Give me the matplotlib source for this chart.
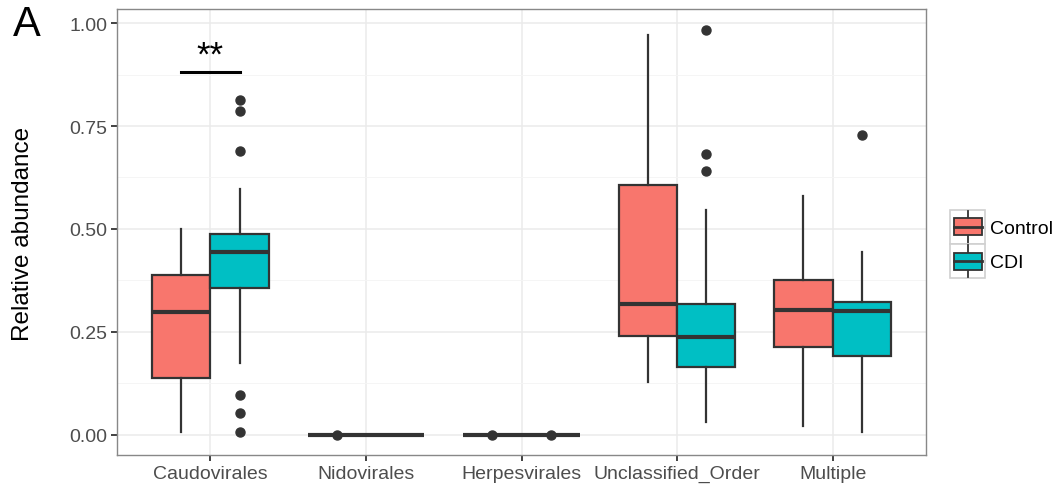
import matplotlib
matplotlib.use("Agg")
import matplotlib.pyplot as plt
from matplotlib.legend_handler import HandlerBase
from matplotlib.patches import Rectangle
from matplotlib.lines import Line2D
import numpy as np

plt.rcParams['font.family'] = ['Liberation Sans', 'DejaVu Sans']

categories = ["Caudovirales", "Nidovirales", "Herpesvirales", "Unclassified_Order", "Multiple"]
groups = ["Control", "CDI"]
colors = {"Control": "#F8766D", "CDI": "#00BFC4"}

# Box statistics per group (one value per category)
ctrl_whislo = [0.007, 0.0, 0.0, 0.127, 0.020]
ctrl_q1     = [0.138, 0.0, 0.0, 0.240, 0.213]
ctrl_med    = [0.297, 0.0, 0.0, 0.318, 0.302]
ctrl_q3     = [0.388, 0.0, 0.0, 0.607, 0.376]
ctrl_whishi = [0.500, 0.0, 0.0, 0.971, 0.581]
ctrl_fliers = [[], [0.0], [0.0], [], []]

cdi_whislo = [0.174, 0.0, 0.0, 0.032, 0.007]
cdi_q1     = [0.357, 0.0, 0.0, 0.165, 0.192]
cdi_med    = [0.443, 0.0, 0.0, 0.237, 0.301]
cdi_q3     = [0.487, 0.0, 0.0, 0.318, 0.322]
cdi_whishi = [0.597, 0.0, 0.0, 0.546, 0.445]
cdi_fliers = [[0.813, 0.787, 0.690, 0.097, 0.053, 0.007], [], [0.0], [0.983, 0.682, 0.641], [0.728]]

yticks = [0.00, 0.25, 0.50, 0.75, 1.00]
ytick_labels = ["0.00", "0.25", "0.50", "0.75", "1.00"]
sig_label = "**"
sig_y = 0.882

line_col = "#333333"

fig = plt.figure(figsize=(10.53, 4.85), dpi=100)
ax = fig.add_axes([117/1053, 29/485, (926-117)/1053, (456-10)/485])

def make_stats(whislo, q1, med, q3, whishi, fliers):
    return [dict(whislo=a, q1=b, med=c, q3=d, whishi=e, fliers=np.array(f))
            for a, b, c, d, e, f in zip(whislo, q1, med, q3, whishi, fliers)]

x = np.arange(1, len(categories) + 1)
bw = 0.375
sets = [(make_stats(ctrl_whislo, ctrl_q1, ctrl_med, ctrl_q3, ctrl_whishi, ctrl_fliers), -bw/2, "Control"),
        (make_stats(cdi_whislo, cdi_q1, cdi_med, cdi_q3, cdi_whishi, cdi_fliers), bw/2, "CDI")]
for stats, off, g in sets:
    ax.bxp(stats, positions=x + off, widths=bw, patch_artist=True, showcaps=False,
           boxprops=dict(facecolor=colors[g], edgecolor=line_col, linewidth=1.6),
           medianprops=dict(color=line_col, linewidth=3.0, solid_capstyle='butt'),
           whiskerprops=dict(color=line_col, linewidth=1.6),
           flierprops=dict(marker='o', markerfacecolor=line_col, markeredgecolor=line_col,
                           markersize=6.5, linestyle='none'),
           manage_ticks=False, zorder=3)

# significance marker
ax.plot([1 - bw/2, 1 + bw/2], [sig_y, sig_y], color="black", lw=2.2, zorder=4)
ax.text(1, 0.900, sig_label, ha='center', va='baseline', fontsize=25, color='black')

ymax = 0.985
pad = 0.05 * ymax
ax.set_ylim(-pad, ymax + pad)
ax.set_xlim(0.4, len(categories) + 0.6)
ax.set_xticks(x)
ax.set_xticklabels(categories, fontsize=14, color="#4D4D4D")
ax.set_yticks(yticks)
ax.set_yticklabels(ytick_labels, fontsize=14, color="#4D4D4D")
ax.set_yticks([0.125, 0.375, 0.625, 0.875], minor=True)
ax.set_xticks([], minor=True)
ax.grid(which='major', color="#EBEBEB", lw=1.1, zorder=0)
ax.grid(which='minor', axis='y', color="#F4F4F4", lw=0.6, zorder=0)
ax.set_axisbelow(True)
ax.tick_params(axis='both', which='major', length=4, width=1.3, color="#333333", pad=3)
ax.tick_params(axis='y', which='minor', length=0)
for s in ax.spines.values():
    s.set_color("#888888")
    s.set_linewidth(1.0)

fig.text(23/1053, 1 - 233.5/485, "Relative abundance", fontsize=17.5, rotation=90,
         ha='center', va='center', color='black')
fig.text(13/1053, 1 - 25/485, "A", fontsize=30, va='center', ha='left')

class BoxHandler(HandlerBase):
    def __init__(self, color):
        super().__init__(xpad=0.0, ypad=0.0)
        self.color = color
    def create_artists(self, legend, orig_handle, xdescent, ydescent, width, height, fontsize, trans):
        arts = []
        bg = Rectangle((-xdescent, -ydescent), width, height, facecolor="white",
                       edgecolor="#D0D0D0", lw=1.2, transform=trans)
        arts.append(bg)
        cx = -xdescent + width/2
        bx0 = -xdescent + width*0.1
        bx1 = -xdescent + width*0.9
        y0 = -ydescent + height*0.25
        y1 = -ydescent + height*0.75
        box = Rectangle((bx0, y0), bx1 - bx0, y1 - y0, facecolor=self.color,
                        edgecolor=line_col, lw=1.3, transform=trans)
        arts.append(Line2D([cx, cx], [-ydescent + 1, -ydescent + height - 1], color=line_col, lw=1.3, transform=trans))
        arts.append(box)
        arts.append(Line2D([bx0, bx1], [-ydescent + height/2]*2, color=line_col, lw=2.0, transform=trans))
        return arts

handles = [Rectangle((0, 0), 1, 1) for g in groups]
leg = fig.legend(handles, groups, loc='center left', bbox_to_anchor=(950/1053, 1 - 245/485),
                 frameon=False, fontsize=14, handlelength=1.8, handleheight=2.32,
                 handletextpad=0.25, labelspacing=0.0, borderpad=0.0, borderaxespad=0.0,
                 handler_map={handles[0]: BoxHandler(colors["Control"]),
                              handles[1]: BoxHandler(colors["CDI"])})

fig.savefig("out.png", dpi=100)
